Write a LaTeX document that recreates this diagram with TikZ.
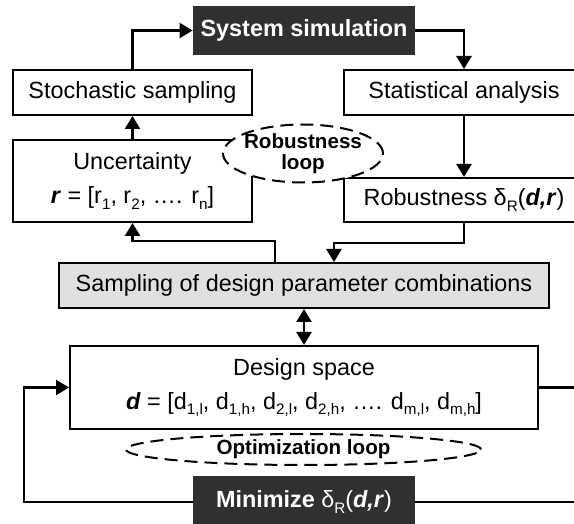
\documentclass[tikz,border=0pt]{standalone}
\usepackage{fontspec}
\setmainfont{Liberation Sans}
\usepackage{tikz}
\usetikzlibrary{arrows.meta}
\usetikzlibrary{shapes.geometric}
\definecolor{sombre}{HTML}{303030}
\definecolor{clair}{HTML}{E0E0E0}
\newcommand{\indice}[1]{\raisebox{-2.6pt}{\fontsize{7.6}{8}\selectfont #1}}

\begin{document}
\begin{tikzpicture}[x=0.5pt,y=-0.5pt,
        font=\fontsize{11.7}{17}\selectfont,
        boite/.style={draw,line width=1pt,fill=white,inner sep=0pt,align=center},
        noire/.style={fill=sombre,text=white,inner sep=0pt},
        boucle/.style={draw,ellipse,line width=1pt,dash pattern=on 6.5pt off 3.5pt,fill=white,inner sep=-6pt,align=center,font=\fontsize{10.3}{10.5}\selectfont\bfseries},
        fleche/.style={line width=1.2pt,-{Triangle[length=6.5pt,width=7.5pt]}},
        double fleche/.style={line width=1.2pt,{Triangle[length=6.5pt,width=7.5pt]}-{Triangle[length=6.5pt,width=7.5pt]}}]
            \useasboundingbox (0,0) rectangle (574,524);
            \clip (0,0) rectangle (574,524);

            \node[noire,minimum width=111pt,minimum height=24.5pt] (simu) at (304,30.5) {\textbf{System simulation}};
            \node[boite,minimum width=119.5pt,minimum height=22.5pt] (stoch) at (132.5,92.5) {Stochastic sampling};
            \node[boite,minimum width=120pt,minimum height=22.5pt] (stat) at (464,92.5) {Statistical analysis};
            \node[boite,minimum width=119.5pt,minimum height=41pt] (incert) at (132.5,181) {Uncertainty\\\textbf{\textit{r}} = [r\indice{1}, r\indice{2}, …. r\indice{n}]};
            \node[boite,minimum width=120pt,minimum height=22pt] (robuste) at (464,200) {Robustness δ\indice{R}(\textbf{\textit{d,r}})};
            \node[boite,fill=clair,minimum width=245pt,minimum height=22.5pt] (echant) at (304,285.5) {Sampling of design parameter combinations};
            \node[boite,minimum width=234pt,minimum height=41.5pt] (espace) at (304,387.5) {Design space\\\textbf{\textit{d}} = [d\indice{1,l}, d\indice{1,h}, d\indice{2,l}, d\indice{2,h}, …. d\indice{m,l}, d\indice{m,h}]};
            \node[noire,minimum width=111pt,minimum height=26pt] (mini) at (304,502) {\textbf{Minimize} δ\indice{R}(\textbf{\textit{d,r}})};

            \coordinate (gauche) at (24,502);
            \coordinate (droite) at (590,502);

            \draw[fleche] (stoch.north) |- (simu.west);
            \draw[fleche] (simu.east) -| (stat.north);
            \draw[fleche] (stat.south) -- (robuste.north);
            \draw[fleche] (incert.north) -- (stoch.south);
            \draw[fleche] (robuste.south) -- ++(0,20) -| ([xshift=15pt]echant.north);
            \draw[fleche] ([xshift=-14.5pt]echant.north) -- ++(0,-21) -| (incert.south);
            \draw[double fleche] (echant.south) -- (espace.north);
            \draw[line width=1.2pt] (espace.east) -| (droite) -- (mini.east);
            \draw[fleche] (mini.west) -- (gauche) |- (espace.west);

            \node[boucle,minimum width=80pt,minimum height=29pt] (rboucle) at (303,153.5) {Robustness\\loop};
            \node[boucle,minimum width=177.5pt,minimum height=15.5pt] (oboucle) at (303.5,449.5) {Optimization loop};
        \end{tikzpicture}
\end{document}
